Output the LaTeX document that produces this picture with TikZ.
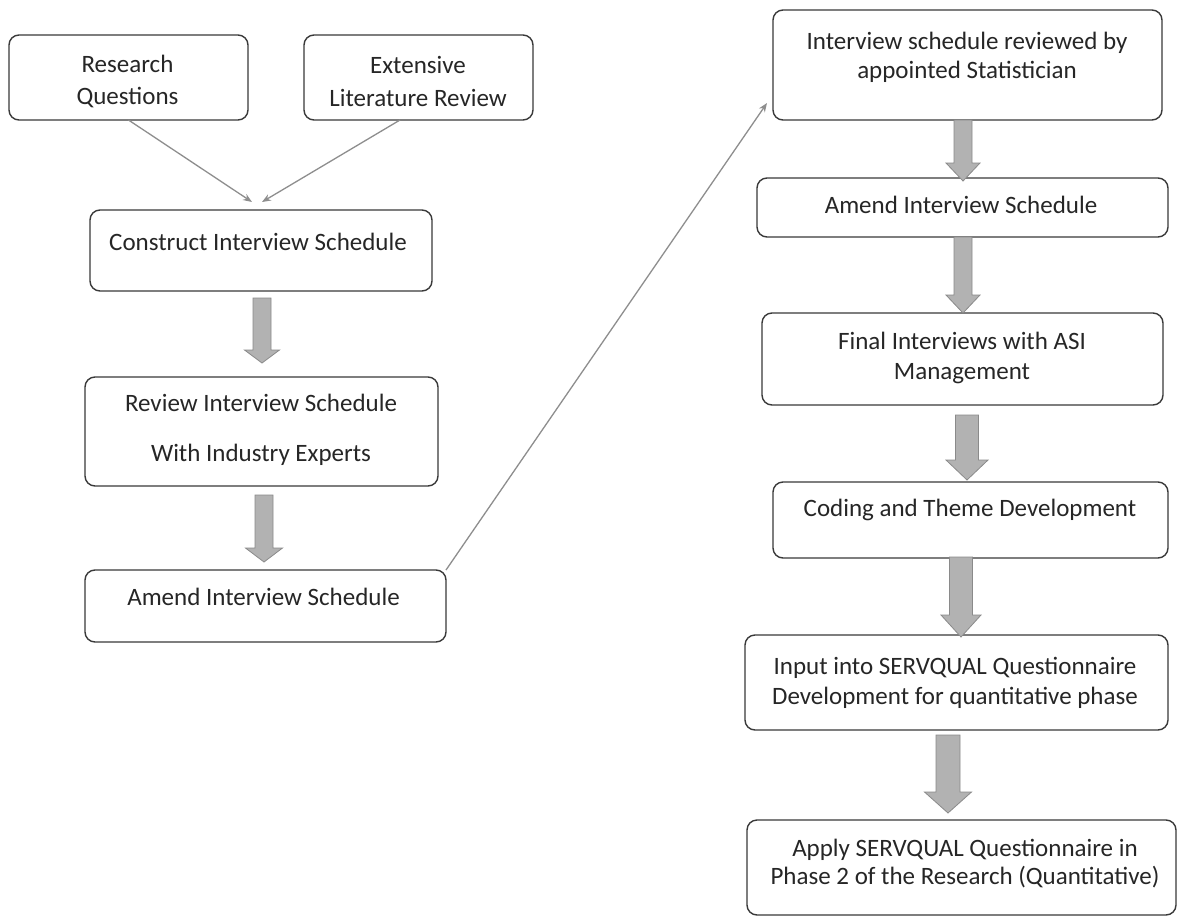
\documentclass[tikz,border=0pt]{standalone}
\usepackage{fontspec}
\setmainfont{Carlito}
\usetikzlibrary{calc,arrows.meta}

\definecolor{boxline}{HTML}{3A3A3A}
\definecolor{txt}{HTML}{262626}
\definecolor{thinline}{HTML}{8E8E8E}
\definecolor{arrfill}{HTML}{B2B2B2}
\definecolor{arredge}{HTML}{8A8A8A}

% block arrow: start, tip, half shaft width, half head width, head length (all pt)
\newcommand\flowarrow[5]{%
  \path[blockarr] let \p1=(#1), \p2=(#2) in
    (\x1-#3pt,\y1) -- (\x1-#3pt,\y2+#5pt) -- (\x1-#4pt,\y2+#5pt) -- (\x1,\y2)
    -- (\x1+#4pt,\y2+#5pt) -- (\x1+#3pt,\y2+#5pt) -- (\x1+#3pt,\y1) -- cycle;}

\begin{document}
\begin{tikzpicture}[x=1pt,y=-1pt,
  box/.style={draw=boxline, line width=1.4pt, rounded corners=10pt, fill=white,
    inner sep=0pt, outer sep=0pt},
  lbl/.style={text=txt, align=center, inner sep=0pt},
  thin/.style={draw=thinline, line width=1.3pt, -{Stealth[length=9pt,width=7pt]}},
  blockarr/.style={fill=arrfill, draw=arredge, line width=0.8pt}]

\useasboundingbox[fill=white] (0,0) rectangle (1178,918);

% left column
\node[box, minimum width=239pt, minimum height=85pt] (rq)  at (128.5,77.5) {};
\node[box, minimum width=229pt, minimum height=85pt] (elr) at (418.5,77.5) {};
\node[box, minimum width=342pt, minimum height=81pt] (cis) at (261,250.5) {};
\node[box, minimum width=353pt, minimum height=109pt] (ris) at (261.5,431.5) {};
\node[box, minimum width=361pt, minimum height=72pt] (ais) at (265.5,606) {};

\node[lbl, font=\fontsize{25}{32}\selectfont] (rq-t)  at (127.5,81) {Research\\Questions};
\node[lbl, font=\fontsize{25}{33}\selectfont] (elr-t) at (418,81) {Extensive\\Literature Review};
\node[lbl, font=\fontsize{25}{30}\selectfont] (cis-t) at (258,242) {Construct Interview Schedule};
\node[lbl, font=\fontsize{25}{50}\selectfont] (ris-t) at (261,430) {Review Interview Schedule\\With Industry Experts};
\node[lbl, font=\fontsize{25}{30}\selectfont] (ais-t) at (263.5,597) {Amend Interview Schedule};

% right column
\node[box, minimum width=389pt, minimum height=110pt] (r1) at (967.5,65) {};
\node[box, minimum width=411pt, minimum height=59pt]  (r2) at (962.5,207.5) {};
\node[box, minimum width=401pt, minimum height=92pt]  (r3) at (962.5,359) {};
\node[box, minimum width=395pt, minimum height=76pt]  (r4) at (970.5,520) {};
\node[box, minimum width=423pt, minimum height=95pt]  (r5) at (956.5,682.5) {};
\node[box, minimum width=429pt, minimum height=95pt]  (r6) at (961.5,867.5) {};

\node[lbl, font=\fontsize{25}{29}\selectfont] (r1-t) at (967,57.5) {Interview schedule reviewed by\\appointed Statistician};
\node[lbl, font=\fontsize{25}{30}\selectfont] (r2-t) at (961,205) {Amend Interview Schedule};
\node[lbl, font=\fontsize{25}{30}\selectfont] (r3-t) at (962,358) {Final Interviews with ASI\\Management};
\node[lbl, font=\fontsize{25}{30}\selectfont] (r4-t) at (970,510) {Coding and Theme Development};
\node[lbl, font=\fontsize{25}{30}\selectfont] (r5-t) at (955,683) {Input into SERVQUAL Questionnaire\\Development for quantitative phase};
\node[lbl, font=\fontsize{25}{28}\selectfont] (r6-t) at (965,864) {Apply SERVQUAL Questionnaire in\\Phase 2 of the Research (Quantitative)};

% thin connectors
\coordinate (cisin1) at ($(cis.north)+(-9,-8)$);
\coordinate (cisin2) at ($(cis.north)+(1,-8)$);
\coordinate (r1in)   at ($(r1.south west)+(-6,-17)$);
\draw[thin] (rq.south) -- (cisin1);
\draw[thin] ($(elr.south)+(-18.5,0)$) -- (cisin2);
\draw[thin] (ais.north east) -- (r1in);

% block arrows
\coordinate (l1s) at ($(cis.south)+(1,7)$);
\coordinate (l1e) at ($(l1s |- ris.north)+(0,-14)$);
\coordinate (l2s) at ($(ris.south)+(2.5,9)$);
\coordinate (l2e) at ($(l2s |- ais.north)+(0,-8)$);
\coordinate (a1s) at ($(r1.south)+(-4.5,0)$);
\coordinate (a1e) at ($(a1s |- r2.north)+(0,3)$);
\coordinate (a2s) at ($(r2.south)+(0.5,0)$);
\coordinate (a2e) at (a2s |- r3.north);
\coordinate (a3s) at ($(r3.south)+(4.5,10)$);
\coordinate (a3e) at ($(a3s |- r4.north)+(0,-2)$);
\coordinate (a4s) at ($(r4.south)+(-9.5,-1)$);
\coordinate (a4e) at ($(a4s |- r5.north)+(0,2)$);
\coordinate (a5s) at ($(r5.south)+(-8.5,5)$);
\coordinate (a5e) at ($(a5s |- r6.north)+(0,-7)$);

\flowarrow{l1s}{l1e}{9}{17.5}{13}
\flowarrow{l2s}{l2e}{9}{18.5}{14}
\flowarrow{a1s}{a1e}{9}{17}{18}
\flowarrow{a2s}{a2e}{9}{17}{18}
\flowarrow{a3s}{a3e}{11.5}{21}{20}
\flowarrow{a4s}{a4e}{11.5}{20}{22}
\flowarrow{a5s}{a5e}{12}{23.5}{21}
\end{tikzpicture}
\end{document}
